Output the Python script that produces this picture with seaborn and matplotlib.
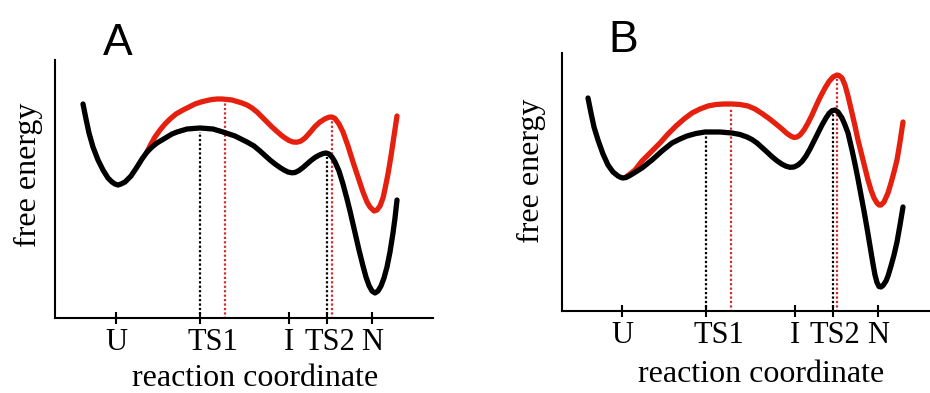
import numpy as np
import pandas as pd
import matplotlib
matplotlib.use("Agg")
import matplotlib.pyplot as plt
import seaborn as sns

# ---- Panel A: free-energy profiles (reaction coordinate, free energy) ----
a_black = [(28, 214), (31, 199), (34, 185), (38, 171), (43, 158), (48, 148), (53, 140),
           (57, 136), (60, 134), (63, 133), (66, 134), (70, 136), (76, 142), (82, 151),
           (87, 159), (92, 166), (97, 171), (102, 175), (107, 178), (112, 181), (117, 184),
           (122, 186), (132, 189), (145, 190), (158, 189), (168, 186), (180, 182), (192, 176),
           (199, 172), (205, 167), (210, 162.5), (215, 158), (220, 154), (225, 150.5),
           (229, 148), (233, 146), (237, 145.2), (240, 145.5), (244, 147.5), (248, 150.5),
           (252, 154), (256, 157.5), (260, 160.5), (264, 162.8), (268, 164.4), (271, 165),
           (274, 164), (277, 161), (280, 156), (284, 147), (288, 134), (292, 119), (295, 107),
           (298, 94), (301, 81), (304, 68), (308, 52), (311, 41), (314, 32.5), (317, 27),
           (320, 25), (323, 27), (326, 32), (329, 40), (332, 51), (335, 66), (338, 85),
           (340, 100), (342, 118)]
a_red = [(92, 166), (96, 174), (100, 181), (105, 188), (110, 194), (115, 199), (121, 204),
         (128, 208), (134, 211), (140, 214), (146, 216), (152, 217.5), (157, 218.5), (162, 219),
         (167, 219), (172, 218.5), (177, 218), (182, 216.5), (187, 215), (192, 213), (197, 210),
         (202, 206), (207, 201), (212, 196), (217, 191), (222, 186.5), (226, 183), (230, 180),
         (234, 177.5), (238, 176), (242, 175.8), (246, 177), (250, 180), (255, 185.5),
         (260, 191.5), (265, 196), (270, 199.2), (274, 200.8), (277, 201), (280, 199.5),
         (284, 194), (288, 186), (293, 172), (298, 156), (303, 141), (308, 126), (312, 116),
         (315, 111), (319, 107), (322, 108), (325, 112), (328, 120), (330, 129), (333, 144),
         (336, 162), (339, 182), (342, 202)]

# ---- Panel B ----
b_black = [(26, 213), (29, 198), (32, 184), (36, 171), (41, 157), (46, 146), (51, 139),
           (56, 135), (59, 133.5), (61, 133), (64, 133.5), (67, 135), (72, 138), (80, 143),
           (90, 151), (100, 160), (110, 168), (118, 172), (125, 175), (134, 177.5), (143, 179),
           (158, 179), (170, 178), (178, 176.5), (185, 174), (190, 171.5), (195, 168),
           (200, 163.5), (205, 159), (210, 154.3), (215, 150.2), (220, 146.8), (224, 144.8),
           (228, 143.7), (232, 144), (236, 146), (240, 149.5), (244, 155), (248, 162),
           (252, 170), (256, 178), (260, 186), (264, 193), (267, 197.5), (270, 200.3),
           (273, 201), (276, 199), (280, 193), (283, 186), (286, 178), (290, 161), (293, 147),
           (296, 132), (299, 116), (302, 100), (305, 83), (308, 65), (311, 47), (313, 36),
           (315, 28.5), (317, 24.5), (319, 24), (321, 25.5), (324, 30), (326, 35), (329, 45),
           (332, 56), (335, 69), (338, 86), (341, 104)]
b_red = [(64, 134), (68, 137), (73, 141), (80, 150), (90, 160), (98, 168), (106, 177),
         (114, 185), (122, 192), (130, 198), (138, 202), (146, 205), (154, 206.5), (162, 207),
         (170, 207), (178, 206.5), (186, 205), (193, 202), (200, 197.5), (207, 192.5),
         (214, 187), (220, 182), (225, 177.5), (229, 174.8), (232, 173.5), (235, 174),
         (238, 176), (242, 181), (246, 188), (250, 196), (254, 205), (258, 213.5), (263, 223),
         (267, 229.5), (271, 234), (275, 236), (277, 235.5), (280, 233), (283, 226),
         (286, 215), (290, 198), (293, 185), (296, 171), (300, 155), (303, 143), (306, 131),
         (309, 121), (312, 113), (315, 108), (317, 106), (319, 106), (322, 109), (326, 118),
         (329, 128), (332, 139), (335, 151), (338, 169), (341, 189)]

# ---- States on the reaction coordinate ----
states = ["U", "TS1", "I", "TS2", "N"]
a_state_x = [61, 145, 234, 272, 317]
a_red_ts_x = [170, 277]          # TS1 and TS2 of the red profile
b_state_x = [60, 144, 233, 271, 316]
b_red_ts_x = [169, 275]

RED = "#e5200e"
DOT_RED = "#d42a2a"

sns.set_style("ticks")
plt.rcParams["font.family"] = ["Liberation Serif", "DejaVu Serif"]
plt.rcParams["text.color"] = "black"
plt.rcParams["axes.labelcolor"] = "black"
plt.rcParams["xtick.color"] = "black"

fig = plt.figure(figsize=(9.3, 3.93), dpi=100)
W, H = 930, 393


def panel(rect_px, xmax, ymax, black_pts, red_pts, sx, rts, letter, letter_xy,
          ylab_xy, xlab_xy):
    left, top, right, bottom = rect_px
    ax = fig.add_axes([left / W, 1 - bottom / H, (right - left) / W, (bottom - top) / H])
    ax.set_xlim(0, xmax)
    ax.set_ylim(0, ymax)

    black = pd.DataFrame(black_pts, columns=["x", "G"])
    red = pd.DataFrame(red_pts, columns=["x", "G"])

    # dotted markers from the axis up to each transition state
    for xb, xr in zip([sx[1], sx[3]], rts):
        yb = np.interp(xb, black["x"], black["G"])
        yr = np.interp(xr, red["x"], red["G"])
        ax.plot([xb, xb], [-1, yb - 4], color="black", lw=1.6,
                linestyle=(0, (1, 1)), zorder=1, clip_on=False)
        ax.plot([xr, xr], [-1, yr - 4], color=DOT_RED, lw=1.6,
                linestyle=(0, (1, 1)), zorder=1, clip_on=False)

    sns.lineplot(data=red, x="x", y="G", sort=False, estimator=None, color=RED,
                 lw=3.8, solid_joinstyle="round", ax=ax, zorder=3)
    sns.lineplot(data=black, x="x", y="G", sort=False, estimator=None, color="black",
                 lw=3.8, solid_joinstyle="round", ax=ax, zorder=4)

    sns.despine(ax=ax)
    for s in ("left", "bottom"):
        ax.spines[s].set_linewidth(1.5)
        ax.spines[s].set_color("black")
    ax.set_yticks([])

    # tick marks at each state; labels centred under the state (TS between both profiles)
    ax.xaxis.remove_overlapping_locs = False
    ax.set_xticks(sx)
    ax.set_xticklabels([""] * len(sx))
    ax.tick_params(axis="x", which="major", direction="inout", length=8, width=1.5,
                   color="black")
    label_x = [sx[0], (sx[1] + rts[0]) / 2, sx[2], (sx[3] + rts[1]) / 2, sx[4]]
    ax.set_xticks(label_x, minor=True)
    ax.set_xticklabels(states, minor=True, fontsize=22)
    ax.tick_params(axis="x", which="minor", length=0, pad=7, labelcolor="black")

    ax.set_xlabel("reaction coordinate", fontsize=23)
    ax.set_ylabel("free energy", fontsize=23)
    ax.xaxis.set_label_coords(*xlab_xy)
    ax.xaxis.label.set_va("top")
    ax.yaxis.set_label_coords(*ylab_xy)

    fig.text(letter_xy[0] / W, 1 - letter_xy[1] / H, letter, fontsize=32,
             family="Liberation Sans", ha="left", va="baseline", color="black")
    return ax


panel((55, 60, 433, 318), 378, 258, a_black, a_red, a_state_x, a_red_ts_x,
      "A", (103, 55), (-0.032, 0.556), (0.529, -0.18))
panel((562, 53, 930, 311), 368, 258, b_black, b_red, b_state_x, b_red_ts_x,
      "B", (608, 52), (-0.043, 0.543), (0.542, -0.19))

fig.savefig("out.png", dpi=100)
